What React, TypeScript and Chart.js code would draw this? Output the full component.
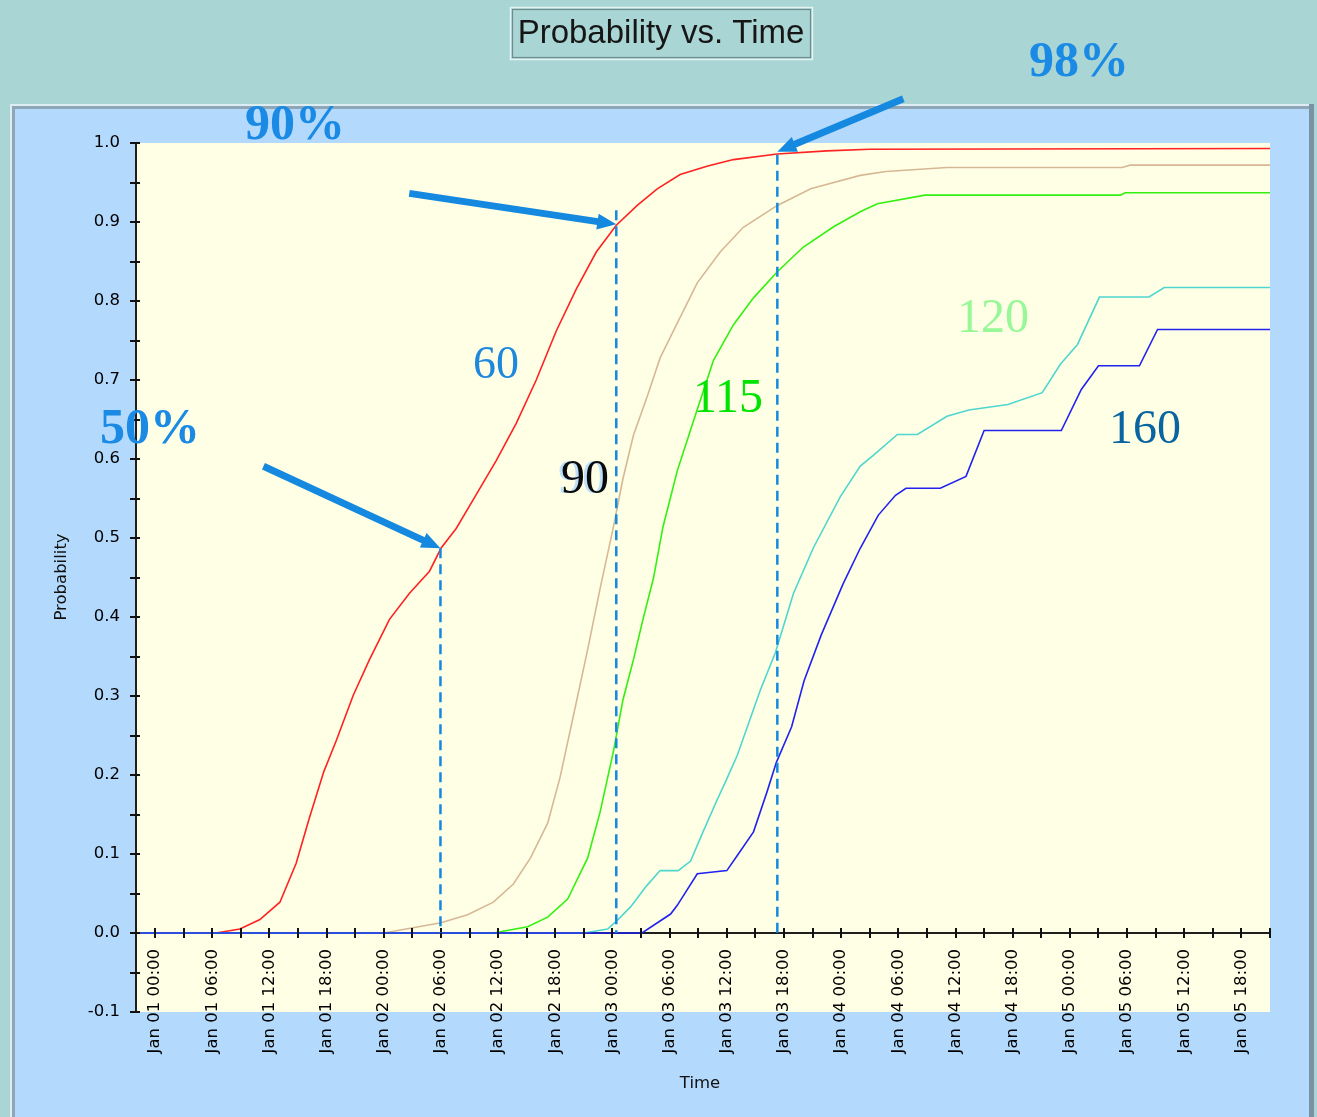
import React, { useEffect, useRef } from "react";
import { Chart, registerables } from "chart.js";

Chart.register(...registerables);

// ---------------- data ----------------
const chartTitle = "Probability vs. Time";
const xAxisTitle = "Time";
const yAxisTitle = "Probability";

// x values are hours since Jan 01 00:00
const xMin = -2;
const xMax = 117;
const xTickHours = [0, 6, 12, 18, 24, 30, 36, 42, 48, 54, 60, 66, 72, 78, 84, 90, 96, 102, 108, 114];
const xMinorHours = [0, 3, 6, 9, 12, 15, 18, 21, 24, 27, 30, 33, 36, 39, 42, 45, 48, 51, 54, 57, 60, 63, 66, 69, 72, 75, 78, 81, 84, 87, 90, 93, 96, 99, 102, 105, 108, 111, 114, 117];
const yTickValues = [-0.1, 0, 0.1, 0.2, 0.3, 0.4, 0.5, 0.6, 0.7, 0.8, 0.9, 1.0];
const yMinorValues = [-0.05, 0.05, 0.15, 0.25, 0.35, 0.45, 0.55, 0.65, 0.75, 0.85, 0.95];

const redHours = [-2, 6.4, 8.9, 11.0, 13.1, 14.8, 16.2, 17.7, 19.0, 20.8, 22.5, 24.6, 26.7, 28.8, 30.0, 31.6, 33.7, 35.8, 37.9, 40.0, 42.1, 44.2, 46.3, 48.4, 50.6, 52.7, 55.1, 58.0, 60.7, 65.3, 70.5, 75.0, 117];
const redValues = [0, 0, 0.005, 0.017, 0.039, 0.088, 0.146, 0.204, 0.243, 0.301, 0.346, 0.397, 0.43, 0.458, 0.487, 0.512, 0.555, 0.598, 0.645, 0.7, 0.762, 0.815, 0.862, 0.896, 0.921, 0.942, 0.96, 0.971, 0.979, 0.986, 0.99, 0.992, 0.993];

const tanHours = [-2, 24.0, 30.0, 32.8, 35.5, 37.6, 39.4, 41.2, 42.5, 43.9, 45.4, 46.7, 48.1, 49.1, 50.2, 51.7, 53.0, 54.8, 56.9, 59.3, 61.7, 65.3, 68.8, 74.0, 76.7, 83.1, 101.5, 102.3, 117];
const tanValues = [0, 0, 0.013, 0.023, 0.039, 0.062, 0.095, 0.139, 0.197, 0.275, 0.359, 0.436, 0.514, 0.575, 0.63, 0.681, 0.728, 0.772, 0.823, 0.862, 0.893, 0.921, 0.942, 0.959, 0.964, 0.969, 0.969, 0.972, 0.972];

const greenHours = [-2, 35.5, 39.1, 41.2, 43.3, 45.4, 46.7, 48.1, 49.1, 50.2, 51.2, 52.3, 53.3, 54.8, 56.5, 58.6, 60.7, 62.8, 65.3, 68.0, 71.2, 74.0, 75.8, 80.8, 101.3, 101.8, 117];
const greenValues = [0, 0, 0.008, 0.02, 0.043, 0.095, 0.153, 0.23, 0.295, 0.346, 0.397, 0.449, 0.514, 0.585, 0.648, 0.725, 0.77, 0.804, 0.837, 0.868, 0.894, 0.913, 0.923, 0.934, 0.934, 0.937, 0.937];

const cyanHours = [-2, 45.0, 47.5, 48.5, 49.9, 51.6, 53.0, 54.9, 56.2, 57.5, 59.0, 60.0, 61.1, 63.5, 65.1, 67.0, 69.1, 71.9, 74.0, 75.4, 77.9, 80.0, 83.1, 85.4, 89.5, 93.1, 95.0, 96.8, 99.1, 104.3, 105.9, 117];
const cyanValues = [0, 0, 0.005, 0.016, 0.033, 0.06, 0.079, 0.079, 0.091, 0.128, 0.169, 0.195, 0.225, 0.307, 0.355, 0.43, 0.488, 0.552, 0.591, 0.605, 0.631, 0.631, 0.654, 0.662, 0.669, 0.684, 0.72, 0.745, 0.805, 0.805, 0.817, 0.817];

const blueHours = [-2, 51.1, 54.1, 54.8, 56.9, 60.0, 61.1, 62.8, 64.2, 65.2, 66.8, 68.1, 69.9, 72.2, 74.0, 75.9, 77.7, 78.8, 82.4, 85.1, 87.0, 95.1, 97.2, 99.0, 103.3, 105.2, 117];
const blueValues = [0, 0, 0.024, 0.035, 0.075, 0.079, 0.098, 0.128, 0.178, 0.216, 0.261, 0.319, 0.377, 0.442, 0.487, 0.529, 0.554, 0.563, 0.563, 0.578, 0.636, 0.636, 0.688, 0.718, 0.718, 0.764, 0.764];

const seriesLabels = ["60", "90", "115", "120", "160"];

// marker lines (hours, probability at top of dashed line, probability at arrow tip)
const markerHours = [29.95, 48.4, 65.3];
const markerTopValues = [0.487, 0.915, 0.985];
const markerTipValues = [0.487, 0.897, 0.989];
const markerTexts = ["50%", "90%", "98%"];

// ---------------- styles ----------------
const TEAL = "#A9D5D4";
const PANEL = "#B3D9FC";
const PLOT = "#FFFFE5";
const ANNOT_BLUE = "#1589E0";
const SANS = "'Liberation Sans', Arial, sans-serif";
const TICKFONT = "'DejaVu Sans', Verdana, sans-serif";
const SERIF = "'Liberation Serif', 'Times New Roman', serif";

function pad2(n: number) {
  return n < 10 ? "0" + n : String(n);
}
function hourLabel(h: number) {
  const day = Math.floor(h / 24) + 1;
  const hr = h % 24;
  return "Jan " + pad2(day) + " " + pad2(hr) + ":00";
}

function zip(xs: number[], ys: number[]) {
  return xs.map((x, i) => ({ x, y: ys[i] }));
}

function drawArrow(ctx: CanvasRenderingContext2D, x1: number, y1: number, x2: number, y2: number) {
  const dx = x2 - x1;
  const dy = y2 - y1;
  const len = Math.hypot(dx, dy);
  const ux = dx / len;
  const uy = dy / len;
  const headLen = 19;
  const headW = 8;
  const bx = x2 - ux * headLen;
  const by = y2 - uy * headLen;
  ctx.save();
  ctx.strokeStyle = ANNOT_BLUE;
  ctx.fillStyle = ANNOT_BLUE;
  ctx.lineWidth = 7;
  ctx.lineCap = "butt";
  ctx.beginPath();
  ctx.moveTo(x1, y1);
  ctx.lineTo(bx + ux * 2, by + uy * 2);
  ctx.stroke();
  ctx.beginPath();
  ctx.moveTo(x2, y2);
  ctx.lineTo(bx - uy * headW, by + ux * headW);
  ctx.lineTo(bx + uy * headW, by - ux * headW);
  ctx.closePath();
  ctx.fill();
  ctx.restore();
}

function drawText(ctx: CanvasRenderingContext2D, text: string, cx: number, baseline: number, font: string, color: string) {
  ctx.save();
  ctx.font = font;
  ctx.fillStyle = color;
  ctx.textAlign = "center";
  ctx.textBaseline = "alphabetic";
  ctx.fillText(text, cx, baseline);
  ctx.restore();
}

const decorPlugin = {
  id: "decor",
  beforeDraw(chart: any) {
    const ctx: CanvasRenderingContext2D = chart.ctx;
    const { width, height, chartArea: ca } = chart;
    ctx.save();
    ctx.fillStyle = TEAL;
    ctx.fillRect(0, 0, width, height);

    // title box
    ctx.strokeStyle = "#E2F3F3";
    ctx.lineWidth = 1.5;
    ctx.strokeRect(510.5, 7.5, 302, 52);
    ctx.strokeStyle = "#6F8C8C";
    ctx.lineWidth = 1.2;
    ctx.strokeRect(512.5, 9.5, 298, 48);
    drawText(ctx, chartTitle, 661, 43, "33px " + SANS, "#161616");

    // panel
    ctx.fillStyle = PANEL;
    ctx.fillRect(10, 104, 1304, 1020);
    ctx.fillStyle = "#DCEDF4";
    ctx.fillRect(10, 104, 1304, 2);
    ctx.fillRect(10, 104, 2, 1020);
    ctx.fillStyle = "#8EA6B6";
    ctx.fillRect(12, 106, 1300, 3);
    ctx.fillRect(12, 106, 3, 1020);
    ctx.fillStyle = "#7A93A3";
    ctx.fillRect(1309, 104, 5, 1020);

    // plot area
    ctx.fillStyle = PLOT;
    ctx.fillRect(ca.left, ca.top, ca.right - ca.left, ca.bottom - ca.top);

    // axis titles
    ctx.font = "16.5px " + TICKFONT;
    ctx.fillStyle = "#111";
    ctx.textAlign = "center";
    ctx.textBaseline = "middle";
    ctx.fillText(xAxisTitle, (ca.left + ca.right) / 2 - 3, 1084);
    ctx.translate(62, 577);
    ctx.rotate(-Math.PI / 2);
    ctx.fillText(yAxisTitle, 0, 0);
    ctx.restore();
  },
  beforeDatasetsDraw(chart: any) {
    const ctx: CanvasRenderingContext2D = chart.ctx;
    const xs = chart.scales.x;
    const ys = chart.scales.y;
    const y0 = ys.getPixelForValue(0);
    const xl = xs.getPixelForValue(xMin);
    const xr = xs.getPixelForValue(xMax);
    ctx.save();
    ctx.strokeStyle = "#1E1E1E";
    ctx.lineWidth = 2;
    ctx.beginPath();
    ctx.moveTo(xl, y0);
    ctx.lineTo(xr + 1, y0);
    ctx.moveTo(xl, ys.getPixelForValue(1.0) - 1);
    ctx.lineTo(xl, ys.getPixelForValue(-0.1) + 1);
    ctx.stroke();
    ctx.restore();
  },
  afterDatasetsDraw(chart: any) {
    const ctx: CanvasRenderingContext2D = chart.ctx;
    const xs = chart.scales.x;
    const ys = chart.scales.y;
    const y0 = ys.getPixelForValue(0);
    const xl = xs.getPixelForValue(xMin);
    ctx.save();
    // tick marks
    ctx.strokeStyle = "#111";
    ctx.lineWidth = 2;
    ctx.beginPath();
    xMinorHours.forEach((h) => {
      const px = Math.round(xs.getPixelForValue(h));
      ctx.moveTo(px, y0 - 5);
      ctx.lineTo(px, y0 + 5);
    });
    [...yTickValues, ...yMinorValues].forEach((v) => {
      const py = Math.round(ys.getPixelForValue(v));
      ctx.moveTo(xl - 6, py);
      ctx.lineTo(xl + 4, py);
    });
    ctx.stroke();

    // dashed marker lines
    ctx.strokeStyle = ANNOT_BLUE;
    ctx.lineWidth = 2.5;
    ctx.setLineDash([10, 6]);
    markerHours.forEach((h, i) => {
      const px = xs.getPixelForValue(h);
      ctx.beginPath();
      ctx.moveTo(px, ys.getPixelForValue(markerTopValues[i]));
      ctx.lineTo(px, y0);
      ctx.stroke();
    });
    ctx.setLineDash([]);

    // arrows
    const tailOffsets = [
      [-177, -82],
      [-207, -31],
      [126, -53],
    ];
    markerHours.forEach((h, i) => {
      const tx = xs.getPixelForValue(h);
      const ty = ys.getPixelForValue(markerTipValues[i]);
      drawArrow(ctx, tx + tailOffsets[i][0], ty + tailOffsets[i][1], tx, ty);
    });

    // percentage labels
    const pctPos = [
      [150, 443],
      [295, 139],
      [1079, 76],
    ];
    markerTexts.forEach((t, i) => {
      drawText(ctx, t, pctPos[i][0], pctPos[i][1], "bold 50px " + SERIF, "#1A8AE4");
    });

    // series labels
    drawText(ctx, seriesLabels[0], 496, 378, "46px " + SERIF, "#1E88DC");
    drawText(ctx, seriesLabels[1], 582, 493, "48px " + SERIF, "#BEE0F8");
    drawText(ctx, seriesLabels[1], 585, 493, "48px " + SERIF, "#0A0A0A");
    drawText(ctx, seriesLabels[2], 728, 412, "48px " + SERIF, "#00E400");
    drawText(ctx, seriesLabels[3], 993, 332, "48px " + SERIF, "#98F898");
    drawText(ctx, seriesLabels[4], 1145, 443, "48px " + SERIF, "#0A64A0");
    ctx.restore();
  },
};

export default function App() {
  const canvasRef = useRef<HTMLCanvasElement | null>(null);

  useEffect(() => {
    const canvas = canvasRef.current;
    if (!canvas) return;
    const mk = (label: string, xs: number[], ys: number[], color: string, order: number) => ({
      label,
      data: zip(xs, ys),
      borderColor: color,
      backgroundColor: color,
      borderWidth: 1.6,
      pointRadius: 0,
      tension: 0,
      fill: false,
      order,
    });
    const chart = new Chart(canvas, {
      type: "line",
      data: {
        datasets: [
          mk(seriesLabels[0], redHours, redValues, "#FF2222", 5),
          mk(seriesLabels[1], tanHours, tanValues, "#D6B896", 4),
          mk(seriesLabels[2], greenHours, greenValues, "#33F011", 3),
          mk(seriesLabels[3], cyanHours, cyanValues, "#4FD6CF", 2),
          mk(seriesLabels[4], blueHours, blueValues, "#2222F0", 1),
        ],
      },
      options: {
        responsive: false,
        animation: false,
        devicePixelRatio: 1,
        events: [],
        layout: { padding: { left: 0, top: 143, right: 47, bottom: 105 } },
        plugins: {
          legend: { display: false },
          tooltip: { enabled: false },
          title: { display: false },
        },
        scales: {
          x: {
            type: "linear",
            min: xMin,
            max: xMax,
            position: { y: 0 },
            grid: { display: false, drawTicks: false },
            border: { display: false },
            afterBuildTicks: (scale: any) => {
              scale.ticks = xTickHours.map((v) => ({ value: v }));
            },
            ticks: {
              autoSkip: false,
              maxRotation: 90,
              minRotation: 90,
              padding: 16,
              color: "#000",
              font: { family: TICKFONT, size: 16.5 },
              callback: (v: any) => hourLabel(Number(v)),
            },
          },
          y: {
            type: "linear",
            min: -0.1,
            max: 1.0,
            position: "left",
            grid: { display: false, drawTicks: false },
            border: { display: false },
            afterFit: (scale: any) => {
              scale.width = 136;
            },
            afterBuildTicks: (scale: any) => {
              scale.ticks = yTickValues.map((v) => ({ value: v }));
            },
            ticks: {
              padding: 16,
              color: "#000",
              font: { family: TICKFONT, size: 16.5 },
              callback: (v: any) => Number(v).toFixed(1),
            },
          },
        },
      } as any,
      plugins: [decorPlugin],
    });
    return () => chart.destroy();
  }, []);

  return (
    <div style={{ position: "fixed", left: 0, top: 0, width: 1317, height: 1117, overflow: "hidden" }}>
      <canvas ref={canvasRef} width={1317} height={1117} style={{ display: "block" }} />
    </div>
  );
}
